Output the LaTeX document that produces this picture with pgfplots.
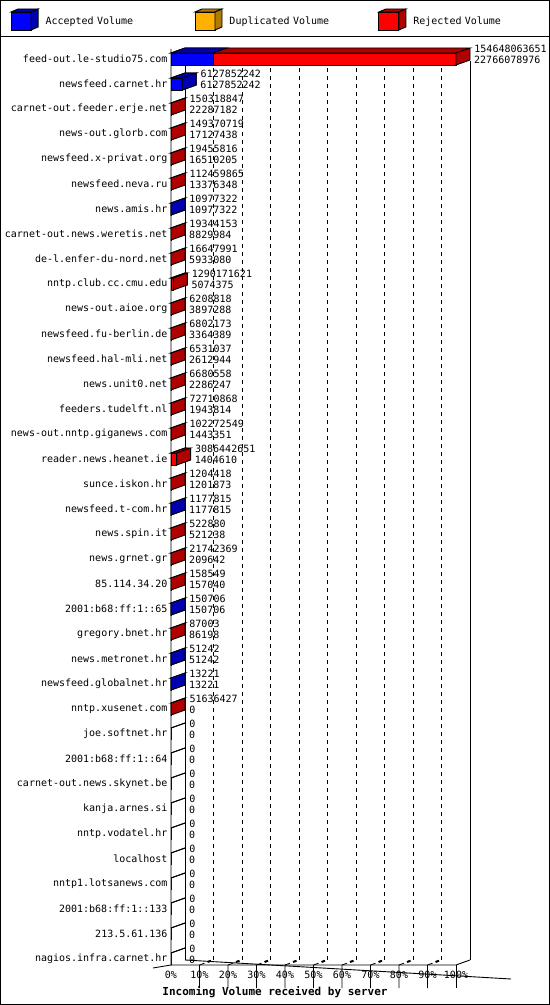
\documentclass[border=0pt]{standalone}
\usepackage{pgfplots}
\usepackage{pgfplotstable}
\usepackage{fontspec}
\pgfplotsset{compat=1.18}

\newfontfamily\gdfont{DejaVu Sans Mono}
\newcommand\smallfont{\gdfont\fontsize{10bp}{11bp}\selectfont}
\newcommand\titlefont{\gdfont\bfseries\fontsize{11bp}{13bp}\selectfont}

\definecolor{accfront}{HTML}{0000FF}
\definecolor{accdark}{HTML}{0000B0}
\definecolor{dupfront}{HTML}{FFB000}
\definecolor{dupdark}{HTML}{B07C00}
\definecolor{rejfront}{HTML}{FF0000}
\definecolor{rejdark}{HTML}{B00000}

% turn a value from "visualization depends on" into a plain fixed number
\newcommand\tofixed[2]{%
  \pgfmathfloatparsenumber{#1}\pgfmathfloattofixed{\pgfmathresult}\let#2\pgfmathresult}

% top face (and right face if the side flag is set) of a 3d bar, drawn at the bar end
\newcommand\depthmark[2]{%
  \pgfdeclareplotmark{#1}{%
    \tofixed{\vLen}{\vL}\tofixed{\vSide}{\vS}%
    \pgfsetlinewidth{0.9bp}\pgfsetstrokecolor{black}\pgfsetfillcolor{#2}%
    \pgfpathmoveto{\pgfpoint{-\vL bp}{6bp}}%
    \pgfpathlineto{\pgfpoint{0bp}{6bp}}%
    \pgfpathlineto{\pgfpoint{14bp}{11bp}}%
    \pgfpathlineto{\pgfpoint{14bp-\vL bp}{11bp}}%
    \pgfpathclose
    \ifdim\vS pt>0.5pt
      \pgfpathmoveto{\pgfpoint{0bp}{-6bp}}%
      \pgfpathlineto{\pgfpoint{14bp}{-1bp}}%
      \pgfpathlineto{\pgfpoint{14bp}{11bp}}%
      \pgfpathlineto{\pgfpoint{0bp}{6bp}}%
      \pgfpathclose
    \fi
    \pgfusepathqfillstroke}}
\depthmark{depthR}{rejdark}
\depthmark{depthB}{accdark}

\newcommand\legcube[2]{%
  \draw[black, line width=0.9bp, fill=#1] (0bp,-9bp) rectangle (20bp,9bp);
  \draw[black, line width=0.9bp, fill=#2] (0bp,9bp) -- (20bp,9bp) -- (27bp,12bp) -- (7bp,12bp) -- cycle;
  \draw[black, line width=0.9bp, fill=#2] (20bp,-9bp) -- (27bp,-6bp) -- (27bp,12bp) -- (20bp,9bp) -- cycle;}

% y: row position (37 = top), t: total volume in % of the largest,
% a: accepted volume in %, rs/bs: draw right face of red/blue bar
\pgfplotstableread{
y  name                        t        a        rs bs tot          acc
37 feed-out.le-studio75.com    100      14.7212  1  0  154648063651 22766078976
36 newsfeed.carnet.hr          3.96245  3.96245  1  1  6127852242   6127852242
35 carnet-out.feeder.erje.net  0.09720  0.01441  1  0  150318847    22287182
34 news-out.glorb.com          0.09659  0.01108  1  0  149370719    17127438
33 newsfeed.x-privat.org       0.01258  0.01068  1  0  19455816     16510205
32 newsfeed.neva.ru            0.07272  0.00865  1  0  112459865    13376348
31 news.amis.hr                0.00710  0.00710  1  1  10977322     10977322
30 carnet-out.news.weretis.net 0.01251  0.00571  1  0  19344153     8829984
29 de-l.enfer-du-nord.net      0.01077  0.00384  1  0  16647991     5933080
28 nntp.club.cc.cmu.edu        0.83426  0.00328  1  0  1290171621   5074375
27 news-out.aioe.org           0.00401  0.00252  1  0  6208818      3897288
26 newsfeed.fu-berlin.de       0.00440  0.00218  1  0  6802173      3364389
25 newsfeed.hal-mli.net        0.00422  0.00169  1  0  6531037      2612944
24 news.unit0.net              0.00432  0.00148  1  0  6680558      2286247
23 feeders.tudelft.nl          0.04702  0.00126  1  0  72710868     1943814
22 news-out.nntp.giganews.com  0.06613  0.00093  1  0  102272549    1443351
21 reader.news.heanet.ie       1.99579  0.00091  1  0  3086442651   1404610
20 sunce.iskon.hr              0.00078  0.00078  1  0  1204418      1201873
19 newsfeed.t-com.hr           0.00076  0.00076  1  1  1177815      1177815
18 news.spin.it                0.00034  0.00034  1  0  522880       521238
17 news.grnet.gr               0.01406  0.00014  1  0  21742369     209642
16 85.114.34.20                0.00010  0.00010  1  0  158549       157040
15 2001:b68:ff:1::65           0.00010  0.00010  1  1  150706       150706
14 gregory.bnet.hr             0.00006  0.00006  1  0  87003        86198
13 news.metronet.hr            0.00003  0.00003  1  1  51242        51242
12 newsfeed.globalnet.hr       0.00001  0.00001  1  1  13221        13221
11 nntp.xusenet.com            0.03339  0        1  0  51636427     0
10 joe.softnet.hr              0        0        0  0  0            0
9  2001:b68:ff:1::64           0        0        0  0  0            0
8  carnet-out.news.skynet.be   0        0        0  0  0            0
7  kanja.arnes.si              0        0        0  0  0            0
6  nntp.vodatel.hr             0        0        0  0  0            0
5  localhost                   0        0        0  0  0            0
4  nntp1.lotsanews.com         0        0        0  0  0            0
3  2001:b68:ff:1::133          0        0        0  0  0            0
2  213.5.61.136                0        0        0  0  0            0
1  nagios.infra.carnet.hr      0        0        0  0  0            0
}\rows

\begin{document}
\begin{tikzpicture}
\useasboundingbox (0,0) rectangle (550bp,1005bp);
\draw[line width=1bp] (0.5bp,0.5bp) rectangle (549.5bp,1004.5bp);
\draw[line width=1bp] (0,968.5bp) -- (550bp,968.5bp);
\begin{axis}[
  at={(171bp,40bp)}, anchor=south west,
  x=2.85bp, y=25bp,
  xmin=0, xmax=100, ymin=0.76, ymax=37.4,
  clip=false,
  axis line style={draw=none},
  tick style={draw=none},
  xtick={0,10,...,100},
  xticklabels={0\%,10\%,20\%,30\%,40\%,50\%,60\%,70\%,80\%,90\%,100\%},
  ytick={1,...,37},
  yticklabel={\pgfmathtruncatemacro\rowidx{36-\ticknum}\pgfplotstablegetelem{\rowidx}{name}\of\rows\pgfplotsretval},
  tick label style={font=\smallfont},
  xticklabel style={yshift=-3bp},
  nodes near coords align=horizontal,
  legend columns=3,
  legend style={at={(-0.5632,1.0444)}, anchor=north west, draw=none, fill=none,
    inner sep=0pt, font=\smallfont,
    /tikz/every odd column/.append style={column sep=7bp},
    nodes={inner sep=0pt, text width=149bp, align=left}},
]
% back wall, floor and dashed grid
\draw[line width=0.9bp] ([shift={(14bp,5bp)}]axis cs:0,0.76) -- ++(0,918bp);
\draw[line width=0.9bp] ([shift={(14bp,5bp)}]axis cs:100,0.76) -- ++(0,918bp);
\draw[line width=0.9bp] ([shift={(14bp,5bp)}]axis cs:0,0.76) -- ++(326bp,0);
\pgfplotsinvokeforeach{10,20,...,90}{
  \draw[line width=0.9bp, dash pattern=on 4bp off 4bp] ([shift={(14bp,5bp)}]axis cs:#1,0.76) -- ++(0,918bp);
  \draw[line width=0.8bp] (axis cs:#1,0.76) -- ++(0,-4bp) (axis cs:#1,0.76) -- ++(5bp,1.8bp);
  \draw[line width=2bp] ([shift={(8bp,3bp)}]axis cs:#1,0.76) -- ++(3.5bp,1.25bp);
}
\draw[line width=0.8bp] (axis cs:100,0.76) -- ++(0,-4bp);
\draw[line width=0.9bp] (axis cs:0,37.4) -- (axis cs:0,0.76) -- (axis cs:100,0.76) -- ++(14bp,5bp);
\draw[line width=0.9bp] (axis cs:0,0.76) -- ++(-18bp,-3bp);

% rejected part: whole bar, with the total as first label line
\addplot[xbar, bar shift=0pt, bar width=12bp, fill=rejfront, draw=black,
  line width=0.9bp, forget plot,
  point meta=explicit symbolic, nodes near coords,
  every node near coord/.append style={font=\smallfont, inner sep=0pt,
    anchor=west, xshift=18bp, yshift=10bp, text=black}]
  table[x=t, y=y, meta=tot] {\rows};
\addplot[scatter, only marks, mark=depthR, forget plot,
  visualization depends on={\thisrow{t}*2.85 \as \vLen},
  visualization depends on={\thisrow{rs} \as \vSide}]
  table[x=t, y=y] {\rows};
% accepted part drawn over it
\addplot[xbar, bar shift=0pt, bar width=12bp, fill=accfront, draw=black,
  line width=0.9bp, forget plot]
  table[x=a, y=y] {\rows};
\addplot[scatter, only marks, mark=depthB, forget plot,
  visualization depends on={\thisrow{a}*2.85 \as \vLen},
  visualization depends on={\thisrow{bs} \as \vSide}]
  table[x=a, y=y] {\rows};
% second label line: accepted volume
\addplot[xbar, bar shift=0pt, bar width=12bp, draw=none, fill=none, forget plot,
  point meta=explicit symbolic, nodes near coords,
  every node near coord/.append style={font=\smallfont, inner sep=0pt,
    anchor=west, xshift=18bp, yshift=-1bp, text=black}]
  table[x=t, y=y, meta=acc] {\rows};

\addlegendimage{legend image code/.code={\legcube{accfront}{accdark}}}
\addlegendentry{Accepted Volume}
\addlegendimage{legend image code/.code={\legcube{dupfront}{dupdark}}}
\addlegendentry{Duplicated Volume}
\addlegendimage{legend image code/.code={\legcube{rejfront}{rejdark}}}
\addlegendentry{Rejected Volume}
\end{axis}
\node[font=\titlefont] at (275bp,13bp) {Incoming Volume received by server};
\end{tikzpicture}
\end{document}
